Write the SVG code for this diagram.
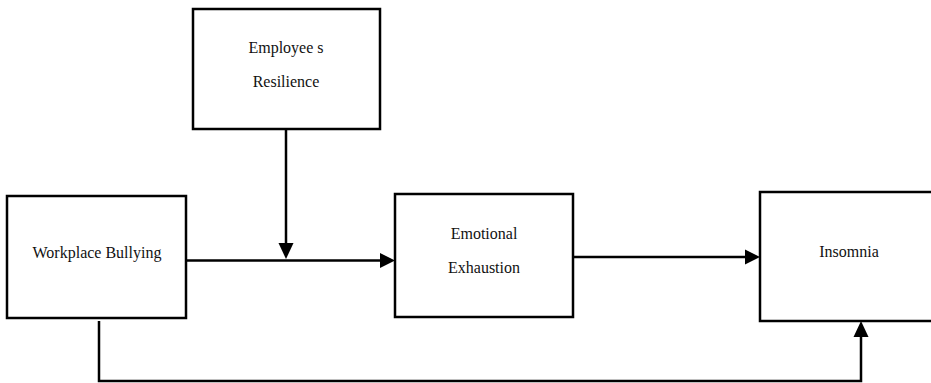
<svg xmlns="http://www.w3.org/2000/svg" width="931" height="383" viewBox="0 0 931 383">
<style>
.box{fill:#fff;stroke:#000;stroke-width:2.5}
.lbl{font-family:"Liberation Serif","Times New Roman",serif;font-size:16px;fill:#111;text-anchor:middle}
.ln{fill:none;stroke:#000;stroke-width:2.5}
.ah{fill:#000;stroke:none}
</style>
<rect width="931" height="383" fill="#fff"/>
<g id="connectors">
<line class="ln" x1="186" y1="260.5" x2="382" y2="260.5"/>
<polygon class="ah" points="380,253 395,260.5 380,268"/>
<line class="ln" x1="286" y1="129" x2="286" y2="245"/>
<polygon class="ah" points="278.5,243 293.5,243 286,259"/>
<line class="ln" x1="573" y1="257" x2="747" y2="257"/>
<polygon class="ah" points="745,249.5 760,257 745,264.5"/>
<polyline class="ln" points="99,321 99,381 861,381 861,336"/>
<polygon class="ah" points="853.5,337 868.5,337 861,321"/>
</g>
<g id="node-employee">
<rect class="box" x="193" y="9" width="187" height="120"/>
<text class="lbl" x="286" y="53">Employee s</text>
<text class="lbl" x="286" y="87">Resilience</text>
</g>
<g id="node-workplace">
<rect class="box" x="7" y="196" width="179" height="122"/>
<text class="lbl" x="97" y="258">Workplace Bullying</text>
</g>
<g id="node-emotional">
<rect class="box" x="395" y="194" width="178" height="123"/>
<text class="lbl" x="484" y="239">Emotional</text>
<text class="lbl" x="484" y="273">Exhaustion</text>
</g>
<g id="node-insomnia">
<rect class="box" x="760" y="192" width="180" height="129"/>
<text class="lbl" x="849" y="257">Insomnia</text>
</g>
</svg>
